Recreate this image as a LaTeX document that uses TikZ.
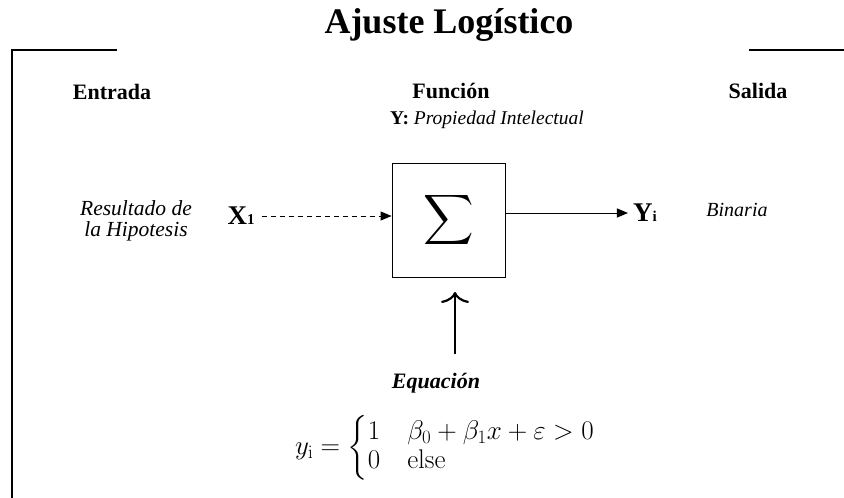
\documentclass[tikz,border=0pt]{standalone}
\usepackage{fix-cm}
\usepackage{amsmath,amssymb}
\usepackage[no-math]{fontspec}
\setmainfont{Liberation Serif}
\usepackage{tikz}
\usetikzlibrary{arrows.meta,positioning}
\newcommand{\bigsub}[2]{{\fontsize{27}{30}\selectfont\bfseries #1}{\fontsize{15}{18}\selectfont\bfseries #2}}

\begin{document}
\begin{tikzpicture}[x=1pt,y=-1pt,
    hdr/.style={anchor=base,font=\fontsize{22}{26}\selectfont\bfseries},
    lbl/.style={font=\fontsize{20}{23}\selectfont\itshape,align=center},
    flow/.style={-{Triangle[length=11pt,width=9pt]},line width=0.9pt}]
  \useasboundingbox (0,0) rectangle (844,498);
  \node[anchor=base,font=\fontsize{36}{40}\selectfont\bfseries] (title) at (449,33) {Ajuste Logístico};
  \draw[line width=1.3pt] (117,50) -- (12,50) -- (12,498);
  \draw[line width=1.3pt] (749,50) -- (844,50);
  \node[hdr] (entrada) at (112,99) {Entrada};
  \node[hdr] (funcion) at (451,98) {Función};
  \node[hdr] (salida) at (758,98) {Salida};
  \node[anchor=base,font=\fontsize{19.5}{23}\selectfont] (prop) at (487,124) {\textbf{Y:} \textit{Propiedad Intelectual}};
  \node[draw,line width=0.9pt,minimum width=113pt,minimum height=114pt,inner sep=0pt] (sum) at (448.5,220)
    {\fontsize{35}{40}\selectfont$\displaystyle\sum$};
  \node[lbl,font=\fontsize{21.5}{23}\selectfont\itshape] (res) at (136,221) {Resultado de\\[-2pt]la Hipotesis};
  \node[inner sep=7pt] (x1) at (241,216) {\bigsub{X}{1}};
  \node[inner sep=5pt] (yi) at (645,213) {\bigsub{Y}{i}};
  \node[lbl] (bin) at (737,210) {Binaria};
  \draw[flow,dashed,dash pattern=on 5pt off 4pt] (x1.east) -- (sum.west|-x1.east);
  \draw[flow] (sum.east|-yi.west) -- (yi.west);
  \coordinate (up0) at (455,354);
  \coordinate (up1) at (455,292);
  \draw[line width=2.2pt,-{Computer Modern Rightarrow[length=11pt,width=28pt]}] (up0) -- (up1);
  \node[anchor=base,font=\fontsize{22}{26}\selectfont\bfseries\itshape] (equ) at (436,388) {Equación};
  \node[font=\fontsize{27}{30}\selectfont] (eq) at (445,448)
    {$\renewcommand{\arraystretch}{0.97}y_{\mathrm{i}}=\left\{\begin{array}{@{}l@{\quad}l@{}}1 & \beta_0+\beta_1x+\varepsilon>0\\ 0 & \mathrm{else}\end{array}\right.$};
\end{tikzpicture}
\end{document}
